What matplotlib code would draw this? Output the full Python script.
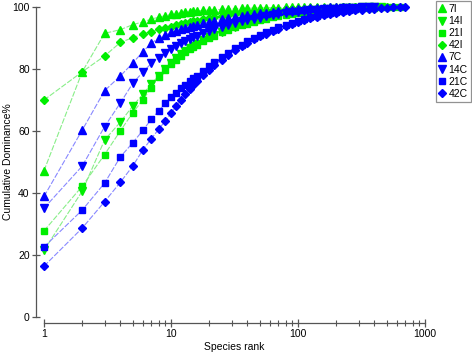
import matplotlib
matplotlib.use("Agg")
import matplotlib.pyplot as plt
from matplotlib.lines import Line2D
from matplotlib.ticker import FixedLocator, FuncFormatter, LogLocator, NullFormatter

plt.rcParams['font.family'] = ['Liberation Sans', 'DejaVu Sans']

# species ranks (shared x positions)
ranks = [1, 2, 3, 4, 5, 6, 7, 8, 9, 10, 11, 12, 13, 14, 15, 16, 18, 20, 22, 25,
         28, 32, 36, 40, 45, 50, 56, 63, 70, 80, 90, 100, 112, 125, 140, 160,
         180, 200, 225, 250, 280, 320, 360, 400, 450, 500, 560, 630, 690]

# cumulative dominance (%) per sample
dom_7I = [47.1, 79.0, 91.4, 92.6, 94.2, 95.1, 96.0, 96.6, 97.1, 97.5, 97.8, 98.0,
          98.2, 98.4, 98.5, 98.6, 98.8, 98.9, 99.0, 99.15, 99.25, 99.35, 99.45,
          99.5, 99.55, 99.6, 99.65, 99.7, 99.72, 99.76, 99.8, 99.83, 99.86, 99.88,
          99.9, 99.93, 99.95, 99.97, 99.98, 99.99, 100.0]
dom_14I = [21.4, 40.5, 57.0, 62.8, 68.0, 71.7, 75.1, 77.7, 80.0, 81.8, 83.3, 84.6,
           85.7, 86.6, 87.4, 88.1, 89.2, 90.2, 91.0, 92.0, 92.8, 93.6, 94.3, 94.8,
           95.4, 95.9, 96.4, 96.85, 97.2, 97.6, 97.95, 98.2, 98.45, 98.65, 98.85,
           99.05, 99.2, 99.3, 99.45, 99.55, 99.65, 99.75, 99.83, 99.92, 100.0]
dom_21I = [27.7, 42.1, 52.3, 60.0, 65.8, 69.9, 73.9, 77.3, 79.6, 81.4, 82.9, 84.2,
           85.3, 86.2, 87.0, 87.7, 88.9, 89.9, 90.7, 91.7, 92.5, 93.3, 94.0, 94.5,
           95.1, 95.6, 96.1, 96.55, 96.9, 97.35, 97.7, 97.95, 98.2, 98.4, 98.6,
           98.8, 98.95, 99.05, 99.2, 99.3, 99.4, 99.5, 99.6, 99.68, 99.75, 99.82,
           99.9, 100.0]
dom_42I = [69.9, 79.0, 84.1, 88.5, 90.0, 91.2, 92.0, 92.7, 93.2, 93.6, 94.0, 94.4,
           94.7, 95.0, 95.3, 95.5, 95.9, 96.3, 96.6, 97.0, 97.3, 97.6, 97.9, 98.1,
           98.3, 98.5, 98.7, 98.85, 99.0, 99.1, 99.2, 99.3, 99.4, 99.45, 99.5,
           99.6, 99.65, 99.7, 99.75, 99.8, 99.84, 99.88, 99.9, 99.93, 99.95, 99.97,
           100.0]
dom_7C = [38.8, 60.2, 72.9, 77.7, 81.8, 85.5, 88.2, 89.9, 90.9, 91.7, 92.3, 92.8,
          93.2, 93.6, 93.9, 94.2, 94.7, 95.1, 95.5, 95.9, 96.3, 96.7, 97.0, 97.3,
          97.6, 97.85, 98.1, 98.35, 98.55, 98.8, 99.0, 99.15, 99.3, 99.45, 99.55,
          99.7, 99.8, 99.88, 99.95, 100.0]
dom_14C = [35.0, 48.6, 61.3, 69.0, 75.3, 78.9, 81.7, 83.5, 85.0, 86.3, 87.3, 88.2,
           88.9, 89.6, 90.2, 90.7, 91.6, 92.3, 92.9, 93.6, 94.2, 94.8, 95.3, 95.7,
           96.1, 96.5, 96.9, 97.3, 97.6, 98.0, 98.25, 98.45, 98.65, 98.85, 99.0,
           99.15, 99.3, 99.4, 99.5, 99.6, 99.7, 99.8, 99.9, 100.0]
dom_21C = [22.5, 34.4, 43.1, 51.6, 56.1, 60.1, 63.7, 66.4, 68.8, 70.8, 72.3, 73.7,
           74.8, 75.9, 76.9, 77.8, 79.4, 80.8, 82.0, 83.7, 85.1, 86.6, 87.8, 88.8,
           89.9, 90.8, 91.7, 92.6, 93.3, 94.2, 94.9, 95.5, 96.1, 96.6, 97.1, 97.6,
           98.0, 98.35, 98.7, 99.0, 99.35, 100.0]
dom_42C = [16.3, 28.6, 37.1, 43.4, 48.6, 53.8, 57.4, 60.5, 63.1, 65.6, 67.9, 70.0,
           71.8, 73.4, 74.8, 76.0, 78.0, 79.7, 81.1, 82.9, 84.4, 86.0, 87.3, 88.4,
           89.5, 90.4, 91.3, 92.2, 92.9, 93.8, 94.5, 95.1, 95.7, 96.2, 96.7, 97.2,
           97.6, 97.9, 98.25, 98.55, 98.8, 99.05, 99.25, 99.4, 99.55, 99.68, 99.8,
           99.9, 100.0]

labels = ['7I', '14I', '21I', '42I', '7C', '14C', '21C', '42C']
series = [dom_7I, dom_14I, dom_21I, dom_42I, dom_7C, dom_14C, dom_21C, dom_42C]

green = '#00ee00'
blue = '#0000ff'
styles = [(green, '^', 5.5), (green, 'v', 5.5), (green, 's', 4.8), (green, 'D', 4.2),
          (blue, '^', 5.5), (blue, 'v', 5.5), (blue, 's', 4.8), (blue, 'D', 4.2)]
line_cols = {green: '#88ee88', blue: '#8888ff'}

fig = plt.figure(figsize=(4.72, 3.52), dpi=100)
ax = fig.add_axes([44 / 472, 1 - 316.7 / 352, (425 - 44) / 472, 310 / 352])

handles = []
for lab, vals, (col, mk, ms) in zip(labels, series, styles):
    x = ranks[:len(vals)]
    # thin dashed connector, then the markers on top
    ax.plot(x, vals, color=line_cols[col], lw=0.8, ls=(0, (5, 1.5)), zorder=2,
            clip_on=False)
    ax.plot(x, vals, ls='none', marker=mk, ms=ms, color=col, mec=col,
            zorder=3, clip_on=False)
    handles.append(Line2D([], [], ls='none', marker=mk, ms=ms, color=col,
                          mec=col, label=lab))

ax.set_xscale('log')
ax.set_xlim(1, 1000)
ax.set_ylim(0, 100)

# detached axes, no box
for s in ['top', 'right']:
    ax.spines[s].set_visible(False)
ax.spines['left'].set_position(('outward', 5.8))
ax.spines['bottom'].set_position(('outward', 4.5))
for s in ['left', 'bottom']:
    ax.spines[s].set_color('#555555')
    ax.spines[s].set_linewidth(0.9)

ax.yaxis.set_major_locator(FixedLocator([0, 20, 40, 60, 80, 100]))
ax.xaxis.set_major_locator(FixedLocator([1, 10, 100, 1000]))
ax.xaxis.set_minor_locator(LogLocator(base=10, subs=range(2, 10)))
ax.xaxis.set_minor_formatter(NullFormatter())
ax.xaxis.set_major_formatter(FuncFormatter(lambda v, p: '%d' % v))

ax.tick_params(which='major', direction='inout', length=6, width=0.9,
               color='#555555', labelsize=7.5, pad=1.5)
ax.tick_params(which='minor', direction='inout', length=4, width=0.8,
               color='#555555')

ax.set_xlabel('Species rank', fontsize=7.5, labelpad=2)
ax.set_ylabel('Cumulative Dominance%', fontsize=7.5, va='center')
ax.yaxis.set_label_coords(8.5 / 472, 1 - 161.7 / 352, transform=fig.transFigure)

leg = fig.legend(handles=handles, loc='upper right',
                 bbox_to_anchor=(471 / 472, 351 / 352), fontsize=7.5,
                 frameon=True, fancybox=False, borderpad=0.3,
                 handlelength=0.7, handletextpad=0.25, labelspacing=0.2,
                 borderaxespad=0)
leg.get_frame().set_edgecolor('#777777')
leg.get_frame().set_linewidth(0.9)

fig.savefig('out.png', dpi=100)
